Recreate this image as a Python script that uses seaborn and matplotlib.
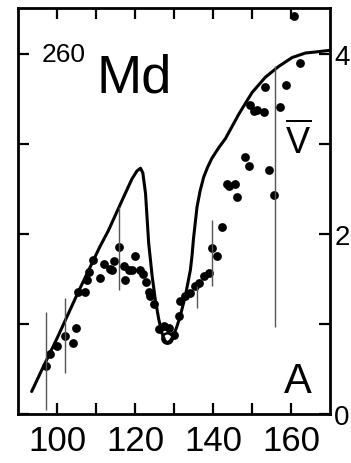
import matplotlib
matplotlib.use("Agg")
import matplotlib.pyplot as plt
import seaborn as sns
import pandas as pd

# ---------------- data ----------------
theory_x = [93.5, 96.0, 100.0, 105.5, 110.9, 113.2, 115.4, 117.5, 119.2, 120.5, 121.4,
            122.0, 122.7, 123.5, 124.4, 125.2, 126.1, 126.9, 127.6, 128.2, 129.0,
            129.9, 130.8, 131.6, 132.9, 134.2, 134.6, 135.0, 135.9, 136.7, 137.6,
            138.6, 139.7, 141.5, 143.2, 146.6, 150.0, 153.4, 156.8, 160.3, 163.7,
            166.0, 168.0, 170.0]
theory_y = [0.25, 0.48, 0.84, 1.36, 1.85, 2.04, 2.25, 2.45, 2.61, 2.70, 2.73,
            2.68, 2.45, 1.90, 1.53, 1.27, 1.05, 0.90, 0.82, 0.79, 0.81,
            0.87, 0.98, 1.09, 1.31, 1.60, 1.75, 1.95, 2.30, 2.48, 2.63,
            2.74, 2.84, 2.96, 3.06, 3.33, 3.57, 3.74, 3.86, 3.96, 4.01,
            4.02, 4.03, 4.04]

data_x = [97.2, 98.2, 100.1, 102.1, 104.0, 104.9, 105.5, 107.2, 107.7, 108.3,
          109.3, 110.9, 112.1, 113.6, 114.1, 114.5, 115.8, 117.1, 117.5, 118.5,
          119.2, 120.1, 121.4, 122.0, 122.7, 123.5, 123.9, 124.8, 126.1, 127.4,
          128.6, 129.9, 131.2, 131.6, 132.9, 134.2, 135.5, 136.3, 137.6, 138.9,
          139.7, 141.0, 142.3, 143.6, 144.2, 145.7, 146.2, 148.3, 149.2, 149.6,
          150.4, 151.2, 153.0, 153.4, 154.3, 155.6, 157.3, 158.7, 160.7, 162.4]
data_y = [0.53, 0.67, 0.75, 0.87, 0.79, 0.95, 1.36, 1.36, 1.49, 1.58,
          1.71, 1.51, 1.67, 1.61, 1.60, 1.70, 1.86, 1.64, 1.49, 1.60,
          1.60, 1.75, 1.60, 1.56, 1.47, 1.36, 1.31, 1.22, 0.94, 0.98,
          0.96, 0.88, 1.09, 1.25, 1.31, 1.34, 1.42, 1.46, 1.53, 1.57,
          1.84, 1.75, 2.08, 2.56, 2.53, 2.56, 2.41, 2.85, 2.76, 3.43,
          3.37, 3.38, 3.35, 3.63, 2.71, 2.43, 3.41, 3.66, 4.42, 3.90]

open_x = [128.2]
open_y = [0.84]

err_x = [97.2, 102.1, 115.8, 135.8, 139.7, 156.0]
err_lo = [0.04, 0.46, 1.38, 1.18, 1.42, 0.97]
err_hi = [1.13, 1.29, 2.30, 1.42, 2.15, 3.87]

x_major = [100, 120, 140, 160]
x_minor = [110, 130, 150]
y_major = [0, 2, 4]
y_minor = [1, 3]

mass_number = "260"
element = "Md"
panel_label = "A"
y_label = r"$\overline{\mathrm{V}}$"

# ---------------- style ----------------
sns.set_style("white")
plt.rcParams["font.family"] = ["Liberation Sans", "DejaVu Sans"]
plt.rcParams["mathtext.fontset"] = "custom"
plt.rcParams["mathtext.rm"] = "Liberation Sans"
plt.rcParams["text.color"] = "black"
plt.rcParams["xtick.color"] = "black"
plt.rcParams["ytick.color"] = "black"

fig = plt.figure(figsize=(3.51, 4.64), dpi=100)
ax = fig.add_axes([0.0513, 0.1056, 0.8889, 0.875])

theory = pd.DataFrame({"x": theory_x, "y": theory_y})
points = pd.DataFrame({"x": data_x, "y": data_y})
opens = pd.DataFrame({"x": open_x, "y": open_y})

sns.lineplot(data=theory, x="x", y="y", ax=ax, color="black", lw=2.2, sort=False)
ax.vlines(err_x, err_lo, err_hi, color="#555555", lw=1.0)
sns.scatterplot(data=points, x="x", y="y", ax=ax, color="black", s=40,
                linewidth=0, clip_on=False)
sns.scatterplot(data=opens, x="x", y="y", ax=ax, color="white",
                edgecolor="black", s=55, linewidth=1.8)

ax.set_xlim(90, 170)
ax.set_ylim(0, 4.51)
ax.set_xlabel("")
ax.set_ylabel("")

ax.set_xticks(x_major)
ax.set_xticks(x_minor, minor=True)
ax.set_yticks(y_major)
ax.set_yticks(y_minor, minor=True)
ax.set_xticklabels([str(v) for v in x_major])
ax.set_yticklabels([str(v) for v in y_major])

for s in ax.spines.values():
    s.set_linewidth(2.0)
    s.set_color("black")

ax.tick_params(which="both", direction="in", length=8, width=1.6,
               top=True, bottom=True, left=True, right=True,
               labelleft=False, labelright=True, labelbottom=True,
               colors="black", labelcolor="black")
ax.tick_params(axis="x", pad=7, labelsize=25)
ax.tick_params(axis="y", pad=3, labelsize=20)
for lab in ax.get_yticklabels():
    lab.set_verticalalignment("center_baseline")

ax.text(96.0, 4.13, mass_number, fontsize=19, ha="left", va="top", color="black")
ax.text(110.0, 3.58, element, fontsize=39, ha="left", va="baseline", color="black")
ax.text(161.7, 0.24, panel_label, fontsize=30, ha="center", va="baseline", color="black")
ax.text(161.9, 3.03, y_label, fontsize=26, ha="center", va="center", color="black")

fig.savefig("out.png", dpi=100)
